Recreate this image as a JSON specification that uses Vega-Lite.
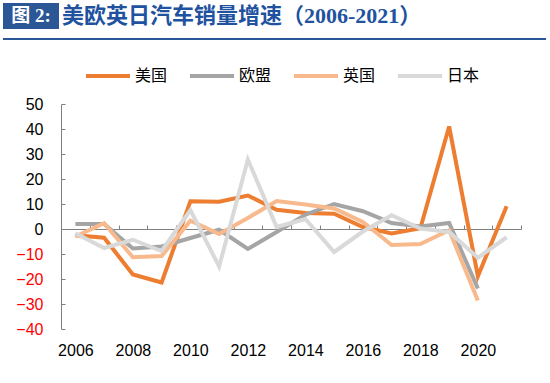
{
  "$schema": "https://vega.github.io/schema/vega-lite/v6.json",
  "background": "white",
  "padding": {"left": 3, "top": 3, "right": 0, "bottom": 0},
  "spacing": 4,
  "config": {"view": {"stroke": null}, "axis": {"labelOverlap": false}},
  "resolve": {"legend": {"color": "independent"}},
  "vconcat": [
    {
      "width": 56,
      "height": 26,
      "view": {"fill": "#2B5797", "stroke": null},
      "data": {"values": [{"t": "图 2:"}]},
      "mark": {"type": "text", "color": "white", "fontSize": 19, "fontWeight": "bold", "font": "Liberation Serif, Noto Sans CJK SC", "align": "center", "baseline": "middle"},
      "encoding": {"text": {"field": "t", "type": "nominal"}},
      "title": {
        "text": "美欧英日汽车销量增速（2006-2021）",
        "orient": "bottom",
        "frame": "group",
        "anchor": "start",
        "align": "left",
        "baseline": "middle",
        "dx": 59,
        "offset": -13,
        "font": "Liberation Serif, Noto Sans CJK SC",
        "fontSize": 22,
        "fontWeight": "bold",
        "color": "#2152A0"
      }
    },
    {
      "width": 543,
      "height": 2,
      "view": {"fill": "#2B5797", "stroke": null},
      "data": {"values": [{"t": ""}]},
      "mark": {"type": "text"},
      "encoding": {"text": {"field": "t", "type": "nominal"}}
    },
    {
      "spacing": 4,
      "resolve": {"legend": {"color": "independent"}},
      "hconcat": [
        {
          "width": 4,
          "height": 10,
          "data": {"values": [{"t": ""}]},
          "mark": {"type": "text"},
          "encoding": {"text": {"field": "t", "type": "nominal"}}
        },
        {
          "width": 460,
          "height": 225,
          "data": {
            "values": [
              {"year": 2006, "country": "美国", "value": -2.5},
              {"year": 2007, "country": "美国", "value": -3.5},
              {"year": 2008, "country": "美国", "value": -18.2},
              {"year": 2009, "country": "美国", "value": -21.4},
              {"year": 2010, "country": "美国", "value": 11.1},
              {"year": 2011, "country": "美国", "value": 10.9},
              {"year": 2012, "country": "美国", "value": 13.4},
              {"year": 2013, "country": "美国", "value": 7.7},
              {"year": 2014, "country": "美国", "value": 6.4},
              {"year": 2015, "country": "美国", "value": 6.1},
              {"year": 2016, "country": "美国", "value": 0.8},
              {"year": 2017, "country": "美国", "value": -1.8},
              {"year": 2018, "country": "美国", "value": 0.3},
              {"year": 2019, "country": "美国", "value": 41.0},
              {"year": 2020, "country": "美国", "value": -18.9},
              {"year": 2021, "country": "美国", "value": 9.1},
              {"year": 2006, "country": "欧盟", "value": 2.0},
              {"year": 2007, "country": "欧盟", "value": 2.0},
              {"year": 2008, "country": "欧盟", "value": -7.8},
              {"year": 2009, "country": "欧盟", "value": -7.0},
              {"year": 2010, "country": "欧盟", "value": -3.6},
              {"year": 2011, "country": "欧盟", "value": -0.3},
              {"year": 2012, "country": "欧盟", "value": -8.0},
              {"year": 2013, "country": "欧盟", "value": -1.2},
              {"year": 2014, "country": "欧盟", "value": 5.7},
              {"year": 2015, "country": "欧盟", "value": 10.0},
              {"year": 2016, "country": "欧盟", "value": 7.1},
              {"year": 2017, "country": "欧盟", "value": 2.4},
              {"year": 2018, "country": "欧盟", "value": 1.0},
              {"year": 2019, "country": "欧盟", "value": 2.4},
              {"year": 2020, "country": "欧盟", "value": -23.8},
              {"year": 2006, "country": "英国", "value": -3.0},
              {"year": 2007, "country": "英国", "value": 2.3},
              {"year": 2008, "country": "英国", "value": -11.3},
              {"year": 2009, "country": "英国", "value": -10.8},
              {"year": 2010, "country": "英国", "value": 3.3},
              {"year": 2011, "country": "英国", "value": -2.0},
              {"year": 2012, "country": "英国", "value": 4.4},
              {"year": 2013, "country": "英国", "value": 11.2},
              {"year": 2014, "country": "英国", "value": 9.8},
              {"year": 2015, "country": "英国", "value": 8.2},
              {"year": 2016, "country": "英国", "value": 2.8},
              {"year": 2017, "country": "英国", "value": -6.4},
              {"year": 2018, "country": "英国", "value": -6.0},
              {"year": 2019, "country": "英国", "value": -0.5},
              {"year": 2020, "country": "英国", "value": -28.6},
              {"year": 2006, "country": "日本", "value": -1.7},
              {"year": 2007, "country": "日本", "value": -7.6},
              {"year": 2008, "country": "日本", "value": -4.3},
              {"year": 2009, "country": "日本", "value": -8.8},
              {"year": 2010, "country": "日本", "value": 7.6},
              {"year": 2011, "country": "日本", "value": -15.0},
              {"year": 2012, "country": "日本", "value": 27.8},
              {"year": 2013, "country": "日本", "value": 0.8},
              {"year": 2014, "country": "日本", "value": 4.0},
              {"year": 2015, "country": "日本", "value": -9.2},
              {"year": 2016, "country": "日本", "value": -1.0},
              {"year": 2017, "country": "日本", "value": 5.5},
              {"year": 2018, "country": "日本", "value": 0.2},
              {"year": 2019, "country": "日本", "value": -1.2},
              {"year": 2020, "country": "日本", "value": -11.5},
              {"year": 2021, "country": "日本", "value": -3.3}
            ]
          },
          "resolve": {"axis": {"x": "independent"}},
          "layer": [
            {
              "mark": {"type": "line", "strokeWidth": 4, "strokeJoin": "miter", "strokeCap": "butt"},
              "encoding": {
                "x": {
                  "field": "year",
                  "type": "quantitative",
                  "scale": {"domain": [2005.5, 2021.5], "nice": false, "zero": false},
                  "axis": {
                    "title": null,
                    "values": [2006, 2008, 2010, 2012, 2014, 2016, 2018, 2020],
                    "format": "d",
                    "domain": false,
                    "ticks": false,
                    "grid": false,
                    "labelOverlap": false,
                    "labelFont": "Liberation Sans",
                    "labelFontSize": 16,
                    "labelColor": "#000000",
                    "labelPadding": 13
                  }
                },
                "y": {
                  "field": "value",
                  "type": "quantitative",
                  "scale": {"domain": [-40, 50], "nice": false, "zero": false},
                  "axis": {
                    "values": [-40, -30, -20, -10, 0, 10, 20, 30, 40, 50],
                    "grid": false,
                    "domain": true,
                    "domainColor": "#808080",
                    "tickColor": "#808080",
                    "tickSize": -4,
                    "labelOverlap": false,
                    "labelFont": "Liberation Sans",
                    "labelFontSize": 16,
                    "labelPadding": 22,
                    "labelColor": {"expr": "datum.value < 0 ? '#FF0000' : '#000000'"},
                    "title": " ",
                    "titleX": -50,
                    "titleY": -56,
                    "titleAngle": 0,
                    "titleAlign": "left",
                    "titleBaseline": "top",
                    "titleFontSize": 10
                  }
                },
                "color": {
                  "field": "country",
                  "type": "nominal",
                  "scale": {"domain": ["美国", "欧盟", "英国", "日本"], "range": ["#ED7D31", "#A5A5A5", "#F8B98C", "#D9D9D9"]},
                  "legend": {
                    "title": null,
                    "orient": "none",
                    "direction": "horizontal",
                    "legendX": 23,
                    "legendY": -52,
                    "symbolType": "stroke",
                    "symbolSize": 1936,
                    "symbolStrokeWidth": 4,
                    "labelFont": "Noto Sans CJK SC",
                    "labelFontSize": 16,
                    "labelColor": "#000000",
                    "labelOffset": 3,
                    "columnPadding": 14
                  }
                }
              }
            },
            {
              "mark": {"type": "line", "opacity": 0},
              "encoding": {
                "x": {
                  "field": "year",
                  "type": "quantitative",
                  "axis": {
                    "title": null,
                    "orient": "bottom",
                    "offset": -100,
                    "values": [2006.5, 2007.5, 2008.5, 2009.5, 2010.5, 2011.5, 2012.5, 2013.5, 2014.5, 2015.5, 2016.5, 2017.5, 2018.5, 2019.5, 2020.5, 2021.5],
                    "labels": false,
                    "grid": false,
                    "domain": true,
                    "domainColor": "#808080",
                    "ticks": true,
                    "tickColor": "#808080",
                    "tickSize": -4
                  }
                },
                "y": {
                  "field": "value",
                  "type": "quantitative",
                  "axis": {
                    "values": [-40, -30, -20, -10, 0, 10, 20, 30, 40, 50],
                    "grid": false,
                    "domain": true,
                    "domainColor": "#808080",
                    "tickColor": "#808080",
                    "tickSize": -4,
                    "labelOverlap": false,
                    "labelFont": "Liberation Sans",
                    "labelFontSize": 16,
                    "labelPadding": 22,
                    "labelColor": {"expr": "datum.value < 0 ? '#FF0000' : '#000000'"},
                    "title": " ",
                    "titleX": -50,
                    "titleY": -56,
                    "titleAngle": 0,
                    "titleAlign": "left",
                    "titleBaseline": "top",
                    "titleFontSize": 10
                  }
                },
                "detail": {"field": "country", "type": "nominal"}
              }
            }
          ]
        }
      ]
    }
  ]
}
